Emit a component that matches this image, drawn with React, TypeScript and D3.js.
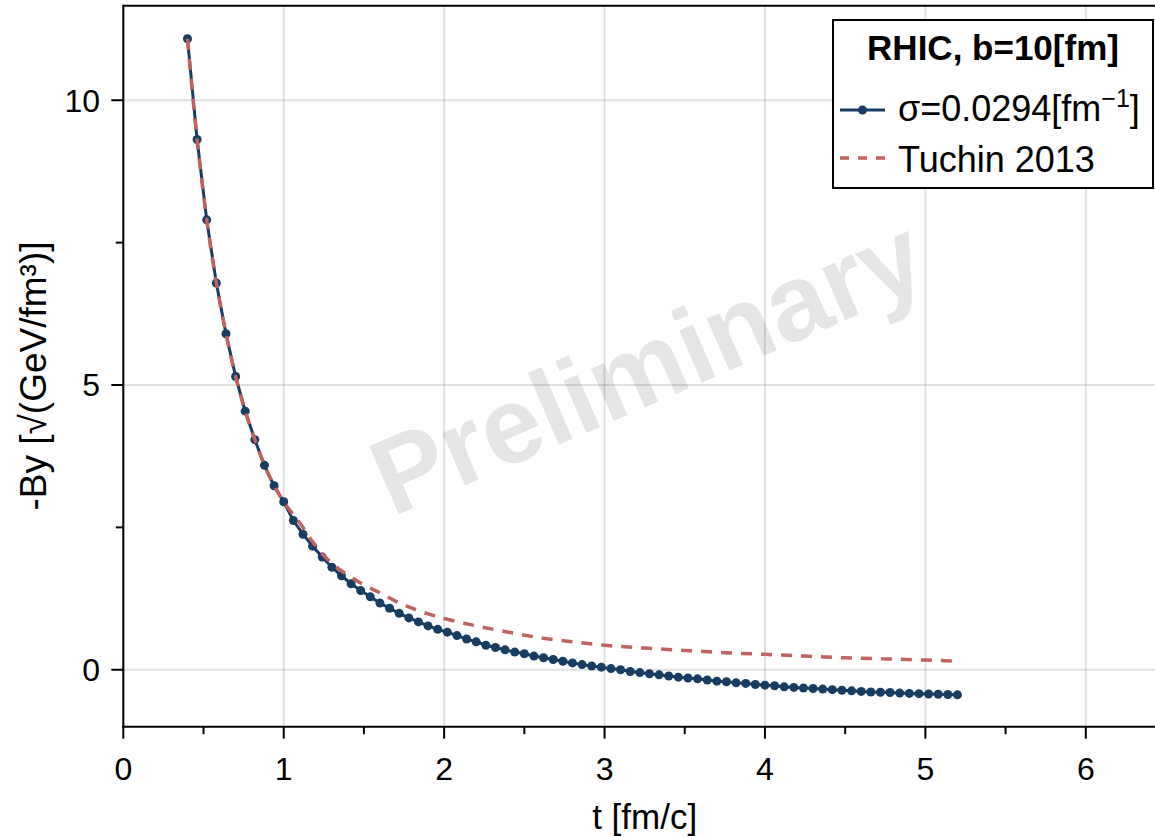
import React from 'react';
import * as d3 from 'd3';

// time grid [fm/c]
const tValues = [
  0.40, 0.46, 0.52, 0.58, 0.64, 0.70, 0.76, 0.82, 0.88, 0.94,
  1.00, 1.06, 1.12, 1.18, 1.24, 1.30, 1.36, 1.42, 1.48, 1.54,
  1.60, 1.66, 1.72, 1.78, 1.84, 1.90, 1.96, 2.02, 2.08, 2.14,
  2.20, 2.26, 2.32, 2.38, 2.44, 2.50, 2.56, 2.62, 2.68, 2.74,
  2.80, 2.86, 2.92, 2.98, 3.04, 3.10, 3.16, 3.22, 3.28, 3.34,
  3.40, 3.46, 3.52, 3.58, 3.64, 3.70, 3.76, 3.82, 3.88, 3.94,
  4.00, 4.06, 4.12, 4.18, 4.24, 4.30, 4.36, 4.42, 4.48, 4.54,
  4.60, 4.66, 4.72, 4.78, 4.84, 4.90, 4.96, 5.02, 5.08, 5.14,
  5.20,
];

// sigma = 0.0294 fm^-1 series (-By)
const sigmaValues = [
  11.08, 9.31, 7.90, 6.79, 5.90, 5.15, 4.54, 4.04, 3.59, 3.23,
  2.95, 2.62, 2.38, 2.17, 1.98, 1.80, 1.65, 1.51, 1.39, 1.28,
  1.17, 1.08, 0.99, 0.91, 0.84, 0.77, 0.71, 0.66, 0.60, 0.54,
  0.49, 0.43, 0.39, 0.35, 0.31, 0.28, 0.24, 0.21, 0.18, 0.15,
  0.12, 0.09, 0.065, 0.045, 0.02, 0.0, -0.03, -0.05, -0.07, -0.09,
  -0.11, -0.13, -0.145, -0.16, -0.18, -0.20, -0.21, -0.23, -0.24, -0.26,
  -0.27, -0.28, -0.30, -0.31, -0.32, -0.33, -0.34, -0.35, -0.36, -0.37,
  -0.38, -0.39, -0.395, -0.40, -0.41, -0.415, -0.42, -0.425, -0.43, -0.435,
  -0.44,
];

// Tuchin 2013 reference curve
const tuchinT = [
  0.40, 0.46, 0.52, 0.58, 0.64, 0.70, 0.76, 0.82, 0.88, 0.94,
  1.00, 1.10, 1.20, 1.30, 1.40, 1.50, 1.60, 1.70, 1.80, 1.90,
  2.00, 2.20, 2.40, 2.60, 2.80, 3.00, 3.25, 3.50, 3.75, 4.00,
  4.25, 4.50, 4.75, 5.00, 5.20,
];
const tuchinValues = [
  11.08, 9.31, 7.90, 6.79, 5.90, 5.15, 4.54, 4.04, 3.59, 3.23,
  2.95, 2.58, 2.17, 1.87, 1.66, 1.49, 1.35, 1.20, 1.08, 0.98,
  0.90, 0.77, 0.66, 0.56, 0.49, 0.43, 0.38, 0.34, 0.30, 0.27,
  0.24, 0.21, 0.19, 0.17, 0.15,
];

const xTicks = [0, 1, 2, 3, 4, 5, 6];
const xMinorTicks = [0.5, 1.5, 2.5, 3.5, 4.5, 5.5];
const yTicks = [0, 5, 10];
const yMinorTicks = [2.5, 7.5];

const legendTitle = 'RHIC, b=10[fm]';
const seriesLabel = 'σ=0.0294[fm';
const refLabel = 'Tuchin 2013';
const xLabel = 't [fm/c]';
const yLabel = '-By [√(GeV/fm³)]';
const watermark = 'Preliminary';

const W = 1155;
const H = 837;
const P = { left: 123.3, right: 1166, top: 5.7, bottom: 726.7 };
const FONT = '"Liberation Sans", Arial, Helvetica, sans-serif';
const NAVY = '#173d62';
const RED = '#c2625e';

export default function App() {
  const x = d3.scaleLinear().domain([0, 6.5]).range([P.left, P.right]);
  const y = d3.scaleLinear().domain([-1.0, 11.66]).range([P.bottom, P.top]);

  const sigmaPts: [number, number][] = tValues.map((t, i) => [t, sigmaValues[i]]);
  const tuchinPts: [number, number][] = tuchinT.map((t, i) => [t, tuchinValues[i]]);

  const line = d3
    .line<[number, number]>()
    .x((d) => x(d[0]))
    .y((d) => y(d[1]));
  const smooth = d3
    .line<[number, number]>()
    .x((d) => x(d[0]))
    .y((d) => y(d[1]))
    .curve(d3.curveMonotoneX);

  const wmX = 662;
  const wmY = 400;

  const legX = 833;
  const legY = 20;
  const legW = 320;
  const legH = 168;

  return (
    <svg
      width={W}
      height={H}
      style={{ position: 'absolute', left: 0, top: 0, overflow: 'hidden' }}
      fontFamily={FONT}
    >
      <rect x={0} y={0} width={W} height={H} fill="#fff" />
      {/* grid */}
      {xTicks.map((t) => (
        <line key={'gx' + t} x1={x(t)} x2={x(t)} y1={P.top} y2={P.bottom} stroke="#000" strokeOpacity={0.12} strokeWidth={2} />
      ))}
      {yTicks.map((v) => (
        <line key={'gy' + v} x1={P.left} x2={P.right} y1={y(v)} y2={y(v)} stroke="#000" strokeOpacity={0.12} strokeWidth={2} />
      ))}
      {/* watermark */}
      <text
        x={wmX}
        y={wmY}
        transform={`rotate(-23.5 ${wmX} ${wmY})`}
        textAnchor="middle"
        fontSize={108}
        fontWeight="bold"
        fill="#000"
        fillOpacity={0.1}
      >
        {watermark}
      </text>
      {/* sigma series */}
      <path d={line(sigmaPts) || ''} fill="none" stroke={NAVY} strokeWidth={3} />
      {sigmaPts.map((d, i) => (
        <circle key={'p' + i} cx={x(d[0])} cy={y(d[1])} r={4.5} fill={NAVY} />
      ))}
      {/* Tuchin */}
      <path d={smooth(tuchinPts) || ''} fill="none" stroke={RED} strokeWidth={3.5} strokeDasharray="11 9" />
      {/* spines */}
      <line x1={P.left} x2={P.right} y1={P.top} y2={P.top} stroke="#000" strokeWidth={2} />
      <line x1={P.left} x2={P.left} y1={P.top - 1} y2={P.bottom + 1} stroke="#000" strokeWidth={2} />
      <line x1={P.left - 1} x2={P.right} y1={P.bottom} y2={P.bottom} stroke="#000" strokeWidth={2} />
      {/* x ticks */}
      {xTicks.map((t) => (
        <g key={'xt' + t}>
          <line x1={x(t)} x2={x(t)} y1={P.bottom} y2={P.bottom + 12} stroke="#000" strokeWidth={2} />
          <text x={x(t)} y={780} textAnchor="middle" fontSize={32} fill="#000">
            {t}
          </text>
        </g>
      ))}
      {xMinorTicks.map((t) => (
        <line key={'xm' + t} x1={x(t)} x2={x(t)} y1={P.bottom} y2={P.bottom + 7.5} stroke="#000" strokeWidth={2} />
      ))}
      {/* y ticks */}
      {yTicks.map((v) => (
        <g key={'yt' + v}>
          <line x1={P.left} x2={P.left - 12} y1={y(v)} y2={y(v)} stroke="#000" strokeWidth={2} />
          <text x={100} y={y(v) + 11.5} textAnchor="end" fontSize={32} fill="#000">
            {v}
          </text>
        </g>
      ))}
      {yMinorTicks.map((v) => (
        <line key={'ym' + v} x1={P.left} x2={P.left - 7.5} y1={y(v)} y2={y(v)} stroke="#000" strokeWidth={2} />
      ))}
      {/* axis labels */}
      <text x={(P.left + P.right) / 2} y={829} textAnchor="middle" fontSize={35} fill="#000">
        {xLabel}
      </text>
      <text
        x={0}
        y={0}
        transform={`translate(46 376) rotate(-90)`}
        textAnchor="middle"
        fontSize={37}
        fill="#000"
      >
        {yLabel}
      </text>
      {/* legend */}
      <rect x={legX} y={legY} width={legW} height={legH} fill="#fff" stroke="#000" strokeWidth={2} />
      <text x={legX + legW / 2} y={60} textAnchor="middle" fontSize={35} fontWeight="bold" fill="#000">
        {legendTitle}
      </text>
      <line x1={840} x2={885} y1={110} y2={110} stroke={NAVY} strokeWidth={3} />
      <circle cx={862.5} cy={110} r={4.5} fill={NAVY} />
      <text x={898} y={121} fontSize={36} fill="#000">
        <tspan>{seriesLabel}</tspan>
        <tspan dy={-14} fontSize={25}>−1</tspan>
        <tspan dy={14}>]</tspan>
      </text>
      <line x1={840} x2={885} y1={158} y2={158} stroke={RED} strokeWidth={3.5} strokeDasharray="9 9" />
      <text x={898} y={172} fontSize={36} fill="#000">
        {refLabel}
      </text>
    </svg>
  );
}
